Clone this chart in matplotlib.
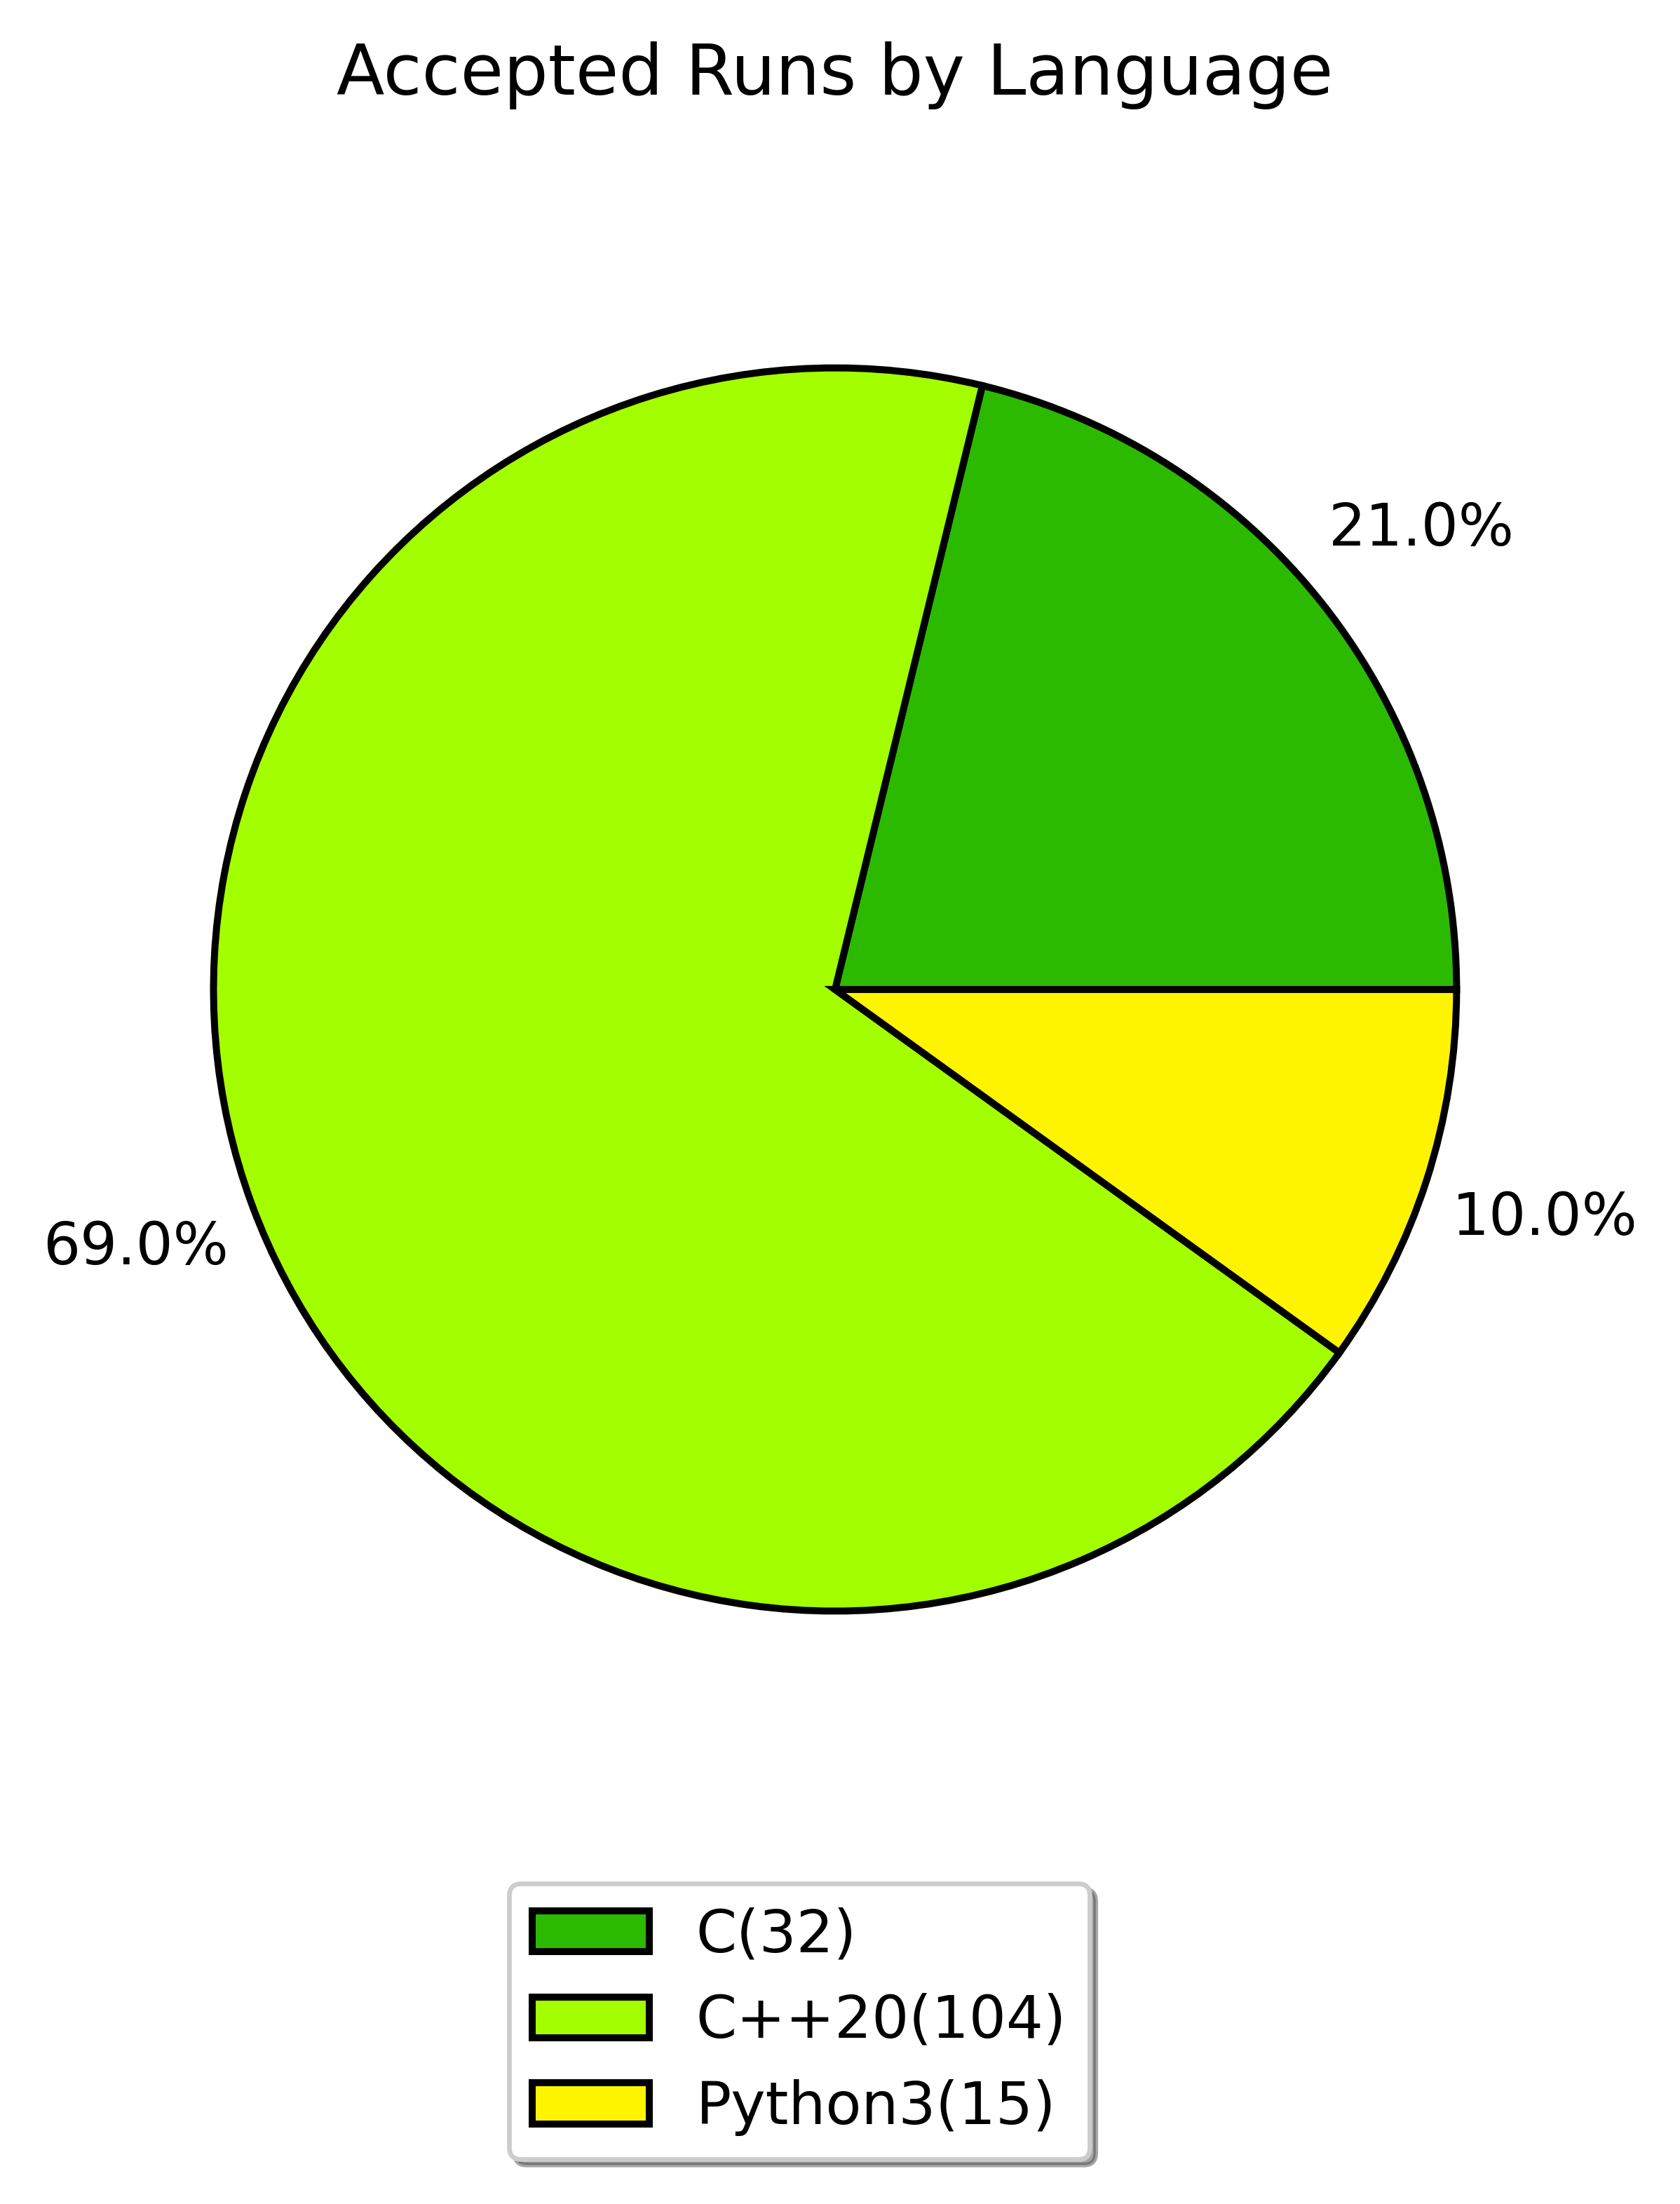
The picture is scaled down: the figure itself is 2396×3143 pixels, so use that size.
import matplotlib
matplotlib.use('Agg')
import matplotlib.pyplot as plt

languages = ['C', 'C++20', 'Python3']
counts = [32, 104, 15]
colors = ['#2cba00', '#a3ff00', '#fff400']

fig = plt.figure(figsize=(2396 / 300, 3143 / 300), dpi=300)
ax = fig.add_axes([0.0346, 0.1985, 0.9249, 0.7051])

# percentages are shown rounded to whole numbers
wedges, texts, autotexts = ax.pie(
    counts, colors=colors, autopct=lambda p: '{:.1f}%'.format(round(p)),
    pctdistance=1.2, startangle=0, counterclock=True,
    wedgeprops={'edgecolor': 'black', 'linewidth': 2.4},
    textprops={'fontsize': 20})
ax.set_aspect('equal')

fig.text(1191 / 2396, 1 - 135 / 3143, 'Accepted Runs by Language',
         ha='center', va='baseline', fontsize=24)

labels = ['{}({})'.format(l, c) for l, c in zip(languages, counts)]
leg = ax.legend(wedges, labels, loc='upper left',
                bbox_to_anchor=(726 / 2396, 1 - 2686 / 3143),
                bbox_transform=fig.transFigure, borderaxespad=0,
                fontsize=20, shadow=True, fancybox=True, labelspacing=0.5)
leg.get_frame().set_linewidth(1.6)

fig.savefig('out.png', dpi=300)
